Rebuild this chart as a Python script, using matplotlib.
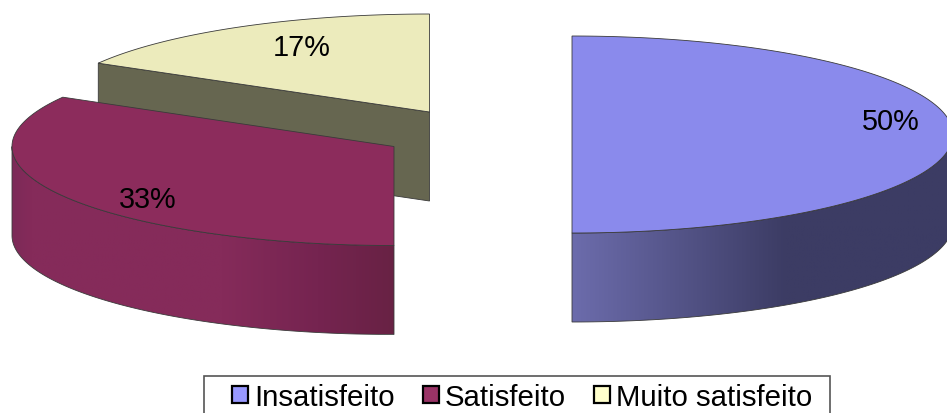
#!/usr/bin/env python3

import numpy as np
import matplotlib
matplotlib.use("Agg")
import matplotlib.pyplot as plt
from matplotlib.patches import Patch, Polygon, Rectangle
from matplotlib.colors import LinearSegmentedColormap

plt.rcParams['font.family'] = ['Liberation Sans', 'DejaVu Sans']

categories = ['Insatisfeito', 'Satisfeito', 'Muito satisfeito']
percent = [50, 33.3, 16.7]
percent_labels = ['50%', '33%', '17%']

# slice geometry in image pixels: centre x, centre y, radius x, radius y
geometry = [(572, 135.5, 381, 98.5), (394, 147.5, 382, 99), (429.5, 113, 382, 98)]
depth = 89
label_xy = [(891, 122), (148, 200), (302, 48)]

top_colors = ['#8a8aec', '#8c2c5c', '#ecebbc']
legend_colors = ['#9999ff', '#993366', '#ffffcc']
cut_color = '#666650'
line_color = '#3a3a3a'

side_cmaps = [
    LinearSegmentedColormap.from_list('blue', [(0, '#6c6cac'), (0.56, '#3c3c64'), (1, '#3c3c64')]),
    LinearSegmentedColormap.from_list('red', [(0, '#7c2a58'), (0.05, '#852b5a'), (0.55, '#852b5a'), (0.8, '#752450'), (1, '#682244')]),
]


def arc(cx, cy, rx, ry, t0, t1, drop=0.0):
    # angles clockwise from the top of the ellipse
    t = np.radians(np.linspace(t0, t1, 200))
    return np.column_stack([cx + rx * np.sin(t), cy - ry * np.cos(t) + drop])


def draw_side(ax, geo, t0, t1, cmap):
    t0, t1 = max(t0, 90), min(t1, 270)
    outline = np.vstack([arc(*geo, t0, t1), arc(*geo, t1, t0, drop=depth)])
    poly = Polygon(outline, closed=True, facecolor='none', edgecolor=line_color, lw=0.6, zorder=3)
    ax.add_patch(poly)
    grad = np.linspace(0, 1, 256).reshape(1, -1)
    x0, x1 = outline[:, 0].min(), outline[:, 0].max()
    y0, y1 = outline[:, 1].min(), outline[:, 1].max()
    im = ax.imshow(grad, cmap=cmap, extent=(x0, x1, y1, y0), aspect='auto', zorder=2)
    im.set_clip_path(poly)


fig = plt.figure(figsize=(9.47, 4.14), dpi=100)
ax = fig.add_axes([0, 0, 1, 1])

edges = 3.6 * np.concatenate([[0], np.cumsum(percent)])

# cut face of the back slice, sits behind everything else
corner = arc(*geometry[2], edges[2], edges[2] + 0.001)[0]
apex = np.array(geometry[2][:2])
ax.add_patch(Polygon([corner, apex, apex + [0, depth], corner + [0, depth]], closed=True,
                     facecolor=cut_color, edgecolor=line_color, lw=0.6, zorder=1))

for i in [2, 1, 0]:
    geo = geometry[i]
    if i < 2:
        draw_side(ax, geo, edges[i], edges[i + 1], side_cmaps[i])
    top = np.vstack([np.array(geo[:2]), arc(*geo, edges[i], edges[i + 1])])
    ax.add_patch(Polygon(top, closed=True, facecolor=top_colors[i], edgecolor=line_color, lw=0.6, zorder=4))
    ax.text(*label_xy[i], percent_labels[i], fontsize=20.8, ha='center', va='center', color='black', zorder=5)

ax.add_patch(Rectangle((204, 376.5), 626, 60, facecolor='white', edgecolor='#555555', lw=1.2, zorder=6))
handles = [Patch(facecolor=c, edgecolor='black', lw=1.6) for c in legend_colors]
ax.legend(handles, categories, loc='center left', bbox_to_anchor=(232, 398), bbox_transform=ax.transData,
          ncol=3, frameon=False, fontsize=21.2, borderpad=0, borderaxespad=0,
          handlelength=0.55, handleheight=0.55, handletextpad=0.2, columnspacing=0.95).set_zorder(7)

ax.set_xlim(0, 947)
ax.set_ylim(414, 0)
ax.axis('off')
fig.savefig('out.png', dpi=100)
